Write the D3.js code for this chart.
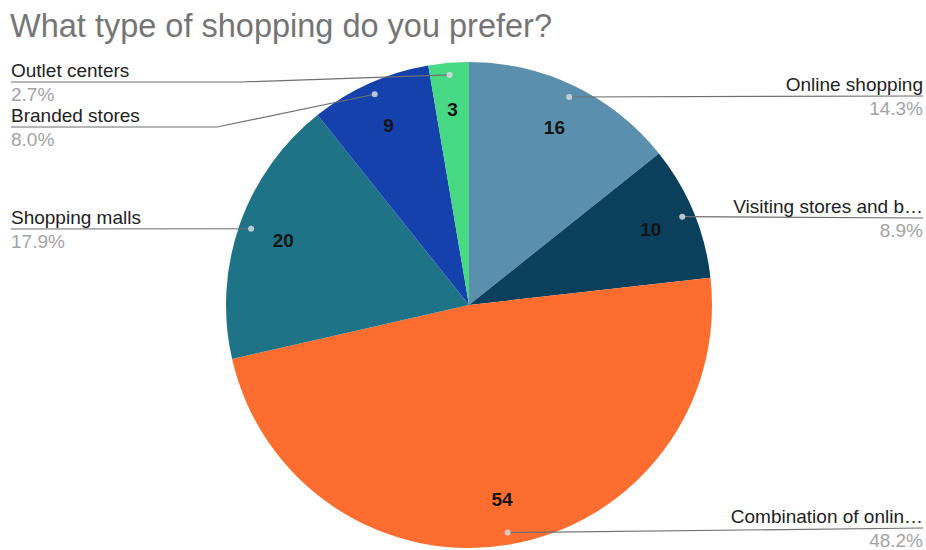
<!DOCTYPE html>
<html>
<head>
<meta charset="utf-8">
<script src="https://cdn.jsdelivr.net/npm/d3@7"></script>
<style>
  html, body { margin: 0; padding: 0; background: #fff; }
  svg { display: block; font-family: "Liberation Sans", Arial, sans-serif; }
</style>
</head>
<body>
<svg id="chart" width="926" height="550"></svg>
<script>
// Survey answers, clockwise from 12 o'clock
const categories = [
  "Online shopping",
  "Visiting stores and b\u2026",
  "Combination of onlin\u2026",
  "Shopping malls",
  "Branded stores",
  "Outlet centers"
];
const responses = [16, 10, 54, 20, 9, 3];
const sliceColors = ["#5b8fae", "#0b405c", "#fd6d2f", "#1f7386", "#1541ad", "#48d985"];

// Callout placement: which side the label sits on, the y of its underline,
// and where the underline bends toward the slice (null = straight)
const calloutSide  = ["right", "right", "right", "left", "left", "left"];
const calloutLineY = [96, 218, 528, 229, 127, 82];
const calloutBendX = [null, null, null, null, 217, 240];

const W = 926, H = 550;
const cx = 469, cy = 305, R = 243;
const leftX = 11, rightX = 923;

const svg = d3.select("#chart");

svg.append("text")
  .attr("x", 10).attr("y", 37)
  .attr("font-size", 32.5)
  .attr("fill", "#757575")
  .text("What type of shopping do you prefer?");

const total = d3.sum(responses);
const data = categories.map((c, i) => ({ name: c, value: responses[i], i }));

const pie = d3.pie().value(d => d.value).sort(null);
const arcs = pie(data);

const arc = d3.arc().innerRadius(0).outerRadius(R);
const labelArc = d3.arc().innerRadius(R * 0.81).outerRadius(R * 0.81);
const dotArc = d3.arc().innerRadius(R * 0.95).outerRadius(R * 0.95);

const g = svg.append("g").attr("transform", `translate(${cx},${cy})`);

g.selectAll("path.slice")
  .data(arcs)
  .join("path")
  .attr("class", "slice")
  .attr("d", arc)
  .attr("fill", d => sliceColors[d.data.i]);

// Value labels inside slices
g.selectAll("text.value")
  .data(arcs)
  .join("text")
  .attr("class", "value")
  .attr("transform", d => `translate(${labelArc.centroid(d)})`)
  .attr("text-anchor", "middle")
  .attr("dy", "0.35em")
  .attr("font-size", 19)
  .attr("font-weight", "bold")
  .attr("fill", "#141414")
  .text(d => d.data.value);

// Leader lines, dots and callout text
const pct = d3.format(".1%");
const callouts = svg.append("g");

arcs.forEach(d => {
  const i = d.data.i;
  const [dx, dy] = dotArc.centroid(d);
  const px = cx + dx, py = cy + dy;
  const ly = calloutLineY[i];
  const right = calloutSide[i] === "right";
  const endX = right ? rightX : leftX;

  const pts = [[px, py]];
  if (calloutBendX[i] !== null) pts.push([calloutBendX[i], ly]);
  else if (Math.abs(py - ly) > 0.5 && !right) pts.push([px, ly]);
  pts.push([endX, ly]);

  callouts.append("path")
    .attr("d", d3.line()(pts))
    .attr("fill", "none")
    .attr("stroke", "#6f6f6f")
    .attr("stroke-width", 1.2);

  callouts.append("circle")
    .attr("cx", px).attr("cy", py).attr("r", 3)
    .attr("fill", "#d5dbe2")
    .attr("opacity", 0.85);

  callouts.append("text")
    .attr("x", endX).attr("y", ly - 5)
    .attr("text-anchor", right ? "end" : "start")
    .attr("font-size", 19)
    .attr("fill", "#222")
    .text(d.data.name);

  callouts.append("text")
    .attr("x", endX).attr("y", ly + 19)
    .attr("text-anchor", right ? "end" : "start")
    .attr("font-size", 19)
    .attr("fill", "#a3a3a3")
    .text(pct(d.data.value / total));
});
</script>
</body>
</html>
